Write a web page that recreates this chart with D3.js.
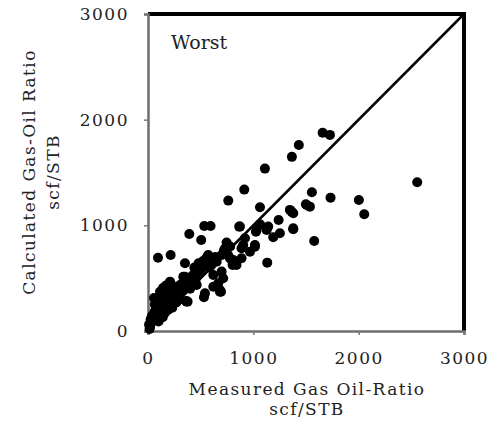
<!DOCTYPE html>
<html>
<head>
<meta charset="utf-8">
<script src="https://cdn.jsdelivr.net/npm/d3@7"></script>
<style>
  html, body { margin: 0; padding: 0; background: #fff; }
  svg { display: block; }
  text { font-family: "DejaVu Serif", serif; fill: #222; }
</style>
</head>
<body>
<svg id="chart" width="499" height="426"></svg>
<script>
// ---- data ----
const xTicks = [0, 1000, 2000, 3000];
const yTicks = [0, 1000, 2000, 3000];
const xTitle = ["Measured Gas Oil-Ratio", "scf/STB"];
const yTitle = ["Calculated Gas-Oil Ratio", "scf/STB"];
const panelLabel = "Worst";
const identityLine = [0, 3000];

// measured GOR (scf/STB)
const measured = [
  10, 15, 20, 25, 30, 38, 40, 50, 57, 60, 65, 70, 80, 85, 90, 95, 100, 100, 110, 110,
  114, 120, 130, 130, 140, 142, 150, 150, 160, 170, 170, 180, 190, 200, 200, 209, 209, 210, 215, 220,
  230, 240, 250, 260, 270, 280, 288, 290, 300, 310, 330, 335, 351, 351, 360, 367, 367, 376, 380, 392,
  400, 420, 430, 440, 450, 462, 462, 470, 480, 493, 505, 520, 531, 534, 541, 541, 556, 563, 572, 580,
  594, 600, 620, 620, 640, 652, 667, 683, 683, 693, 699, 714, 720, 746, 760, 762, 778, 794, 803, 809,
  840, 866, 873, 888, 888, 904, 914, 920, 968, 1015, 1015, 1025, 1031, 1063, 1063, 1110, 1126, 1126, 1132, 1141,
  1189, 1240, 1252, 1347, 1363, 1366, 1379, 1379, 1379, 1432, 1499, 1506, 1537, 1556, 1578, 1658, 1727, 1733, 2002, 2053,
  2556,
  120, 140, 160, 180, 200, 220, 240, 260, 280, 300, 320, 340, 360, 380, 400, 420, 440, 460, 480, 500,
  520, 540, 560, 600, 640, 700, 730, 780
];
// calculated GOR (scf/STB)
const calculated = [
  60, 20, 40, 110, 80, 142, 140, 100, 312, 180, 250, 120, 200, 300, 150, 694, 240, 90, 170, 330,
  372, 280, 200, 372, 130, 407, 320, 230, 170, 360, 430, 260, 200, 300, 400, 467, 451, 250, 720, 340,
  220, 290, 380, 320, 270, 420, 310, 350, 300, 440, 380, 514, 641, 514, 284, 278, 435, 278, 470, 918,
  400, 520, 530, 600, 470, 435, 594, 560, 640, 609, 862, 660, 319, 994, 357, 672, 688, 704, 720, 600,
  994, 660, 530, 419, 700, 656, 451, 372, 388, 372, 562, 499, 760, 838, 720, 1234, 688, 672, 625, 672,
  625, 988, 988, 783, 688, 814, 1338, 878, 751, 798, 814, 940, 956, 1010, 1171, 1537, 956, 972, 647, 988,
  887, 1051, 925, 1146, 1130, 1648, 1114, 963, 972, 1761, 1200, 1193, 1177, 1313, 852, 1877, 1856, 1262, 1240, 1105,
  1408,
  160, 190, 210, 230, 250, 270, 310, 350, 330, 380, 400, 420, 450, 430, 480, 460, 520, 540, 560, 580,
  620, 640, 650, 620, 660, 720, 780, 800
];

// ---- chart ----
const svg = d3.select("#chart");
const x = d3.scaleLinear().domain([0, 3000]).range([148, 464]);
const y = d3.scaleLinear().domain([0, 3000]).range([331, 14]);

// frame: thick black top & right border
svg.append("line")
  .attr("x1", x(0)).attr("x2", x(3000) + 2).attr("y1", y(3000)).attr("y2", y(3000))
  .attr("stroke", "#000").attr("stroke-width", 4);
svg.append("line")
  .attr("x1", x(3000)).attr("x2", x(3000)).attr("y1", y(3000) - 2).attr("y2", y(0))
  .attr("stroke", "#000").attr("stroke-width", 4);

// axes
const xAxis = svg.append("g")
  .attr("transform", `translate(0,${y(0)})`)
  .call(d3.axisBottom(x).tickValues(xTicks).tickFormat(d3.format("d")).tickSize(4).tickPadding(17));
const yAxis = svg.append("g")
  .attr("transform", `translate(${x(0)},0)`)
  .call(d3.axisLeft(y).tickValues(yTicks).tickFormat(d3.format("d")).tickSize(4).tickPadding(15));

[xAxis, yAxis].forEach(g => {
  g.select(".domain").attr("stroke", "#6e6e6e").attr("stroke-width", 2.5);
  g.selectAll(".tick line").attr("stroke", "#777").attr("stroke-width", 1.5);
  g.selectAll(".tick text")
    .style("font-family", "DejaVu Serif, serif")
    .style("font-size", "17px")
    .style("letter-spacing", "1.5px")
    .attr("fill", "#222");
});

// identity line
svg.append("line")
  .attr("x1", x(identityLine[0])).attr("y1", y(identityLine[0]))
  .attr("x2", x(identityLine[1])).attr("y2", y(identityLine[1]))
  .attr("stroke", "#000").attr("stroke-width", 2.5);

// points
const pts = measured.map((m, i) => ({ m, c: calculated[i] }));
svg.append("g").selectAll("circle")
  .data(pts).join("circle")
  .attr("cx", d => x(d.m))
  .attr("cy", d => y(d.c))
  .attr("r", 5)
  .attr("fill", "#000");

// panel label
svg.append("text")
  .attr("x", 171).attr("y", 49)
  .style("font-size", "19px")
  .text(panelLabel);

// x title
const xt = svg.append("text")
  .attr("text-anchor", "middle")
  .style("font-size", "17px")
  .style("letter-spacing", "1.4px");
xt.append("tspan").attr("x", 307).attr("y", 395).text(xTitle[0]);
xt.append("tspan").attr("x", 307).attr("y", 415).text(xTitle[1]);

// y title
const yt = svg.append("text")
  .attr("text-anchor", "middle")
  .attr("transform", "rotate(-90)")
  .style("font-size", "17px")
  .style("letter-spacing", "1.4px");
yt.append("tspan").attr("x", -172).attr("y", 35).text(yTitle[0]);
yt.append("tspan").attr("x", -172).attr("y", 59).text(yTitle[1]);
</script>
</body>
</html>
